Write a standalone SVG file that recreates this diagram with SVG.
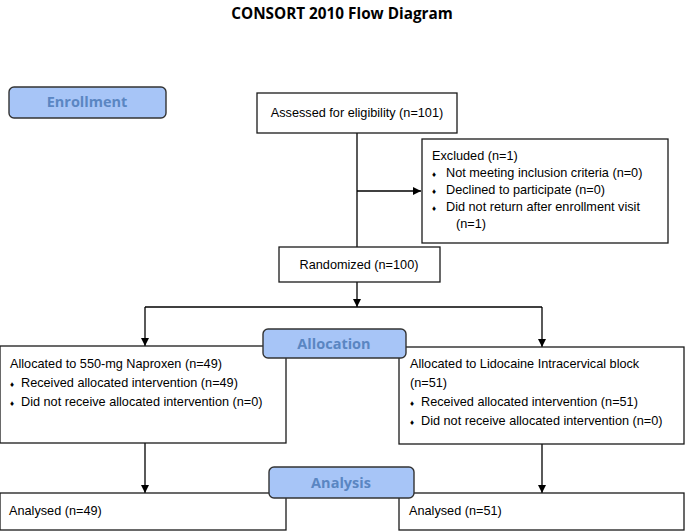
<svg xmlns="http://www.w3.org/2000/svg" width="685" height="532" viewBox="0 0 685 532">
<defs>
<marker id="arr" viewBox="0 0 10 10" refX="10" refY="5" markerWidth="8" markerHeight="8" markerUnits="userSpaceOnUse" orient="auto">
<path d="M0,0 L10,5 L0,10 z" fill="#000"/>
</marker>
<style>
.box{fill:#fff;stroke:#1a1a1a;stroke-width:1.3}
.hdr{fill:#a7c5f7;stroke:#333;stroke-width:1.4}
.t{font-family:"Liberation Sans",Arial,sans-serif;font-size:12.7px;fill:#000}
.h{font-family:"Open Sans","Liberation Sans",sans-serif;font-size:14.5px;font-weight:bold;fill:#5a86c2;text-anchor:middle}
.title{font-family:"Open Sans","Liberation Sans",sans-serif;font-size:15.3px;font-weight:bold;fill:#000;text-anchor:middle}
.c{fill:none;stroke:#000;stroke-width:1.3}
.b{font-size:8px}
</style>
</defs>
<rect width="685" height="532" fill="#fff"/>
<text class="title" x="342" y="19">CONSORT 2010 Flow Diagram</text>

<g id="connectors">
<path class="c" d="M357,133 V247"/>
<path class="c" d="M357,191 H421" marker-end="url(#arr)"/>
<path class="c" d="M357,282 V307" marker-end="url(#arr)"/>
<path class="c" d="M145,307 H542"/>
<path class="c" d="M145,307 V346" marker-end="url(#arr)"/>
<path class="c" d="M542,307 V347" marker-end="url(#arr)"/>
<path class="c" d="M145,443 V493" marker-end="url(#arr)"/>
<path class="c" d="M542,444 V493" marker-end="url(#arr)"/>
</g>

<g id="assessed">
<rect class="box" x="257" y="93" width="200" height="40"/>
<text class="t" x="357" y="117" text-anchor="middle">Assessed for eligibility (n=101)</text>
</g>

<g id="excluded">
<rect class="box" x="422" y="139" width="246" height="104"/>
<text class="t" x="432" y="160">Excluded (n=1)</text>
<text class="t" x="432" y="177"><tspan class="b">♦</tspan><tspan x="446">Not meeting inclusion criteria (n=0)</tspan></text>
<text class="t" x="432" y="194"><tspan class="b">♦</tspan><tspan x="446">Declined to participate (n=0)</tspan></text>
<text class="t" x="432" y="211"><tspan class="b">♦</tspan><tspan x="446">Did not return after enrollment visit</tspan></text>
<text class="t" x="456" y="228">(n=1)</text>
</g>

<g id="randomized">
<rect class="box" x="279" y="247" width="161" height="35"/>
<text class="t" x="359" y="269" text-anchor="middle">Randomized (n=100)</text>
</g>

<g id="alloc-left">
<rect class="box" x="0" y="346" width="286" height="97"/>
<text class="t" x="10" y="368">Allocated to 550-mg Naproxen (n=49)</text>
<text class="t" x="10" y="387"><tspan class="b">♦</tspan><tspan x="21">Received allocated intervention (n=49)</tspan></text>
<text class="t" x="10" y="406"><tspan class="b">♦</tspan><tspan x="21">Did not receive allocated intervention (n=0)</tspan></text>
</g>

<g id="alloc-right">
<rect class="box" x="399" y="347" width="285" height="97"/>
<text class="t" x="410" y="368">Allocated to Lidocaine Intracervical block</text>
<text class="t" x="410" y="387">(n=51)</text>
<text class="t" x="410" y="406"><tspan class="b">♦</tspan><tspan x="421">Received allocated intervention (n=51)</tspan></text>
<text class="t" x="410" y="425"><tspan class="b">♦</tspan><tspan x="421">Did not receive allocated intervention (n=0)</tspan></text>
</g>

<g id="analysed-left">
<rect class="box" x="0" y="493" width="286" height="37"/>
<text class="t" x="9" y="515">Analysed (n=49)</text>
</g>

<g id="analysed-right">
<rect class="box" x="399" y="493" width="285" height="37"/>
<text class="t" x="409" y="515">Analysed (n=51)</text>
</g>

<g id="enrollment">
<rect class="hdr" x="9" y="87" width="157" height="31" rx="5"/>
<text class="h" x="87" y="107">Enrollment</text>
</g>

<g id="allocation">
<rect class="hdr" x="263" y="329" width="143" height="29" rx="5"/>
<text class="h" x="334" y="349">Allocation</text>
</g>

<g id="analysis">
<rect class="hdr" x="269" y="467" width="145" height="31" rx="5"/>
<text class="h" x="341" y="488">Analysis</text>
</g>
</svg>
